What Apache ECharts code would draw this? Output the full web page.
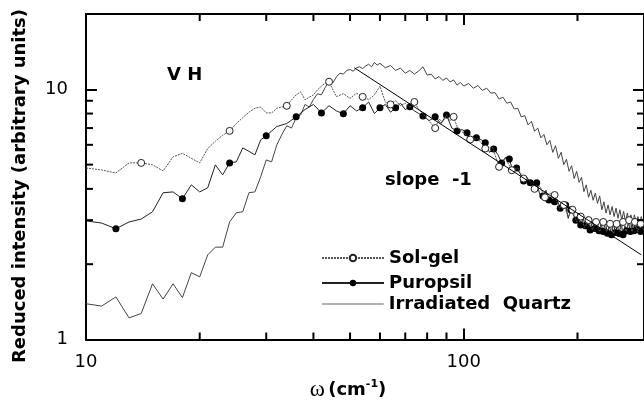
<!DOCTYPE html>
<html><head><meta charset="utf-8">
<script src="https://cdn.jsdelivr.net/npm/echarts@6/dist/echarts.min.js"></script>
<style>html,body{margin:0;padding:0;background:#fff}#c{width:644px;height:414px}</style>
</head><body><div id="c"></div>
<script>
const X_MIN = 10, X_MAX = 300, Y_MIN = 1, Y_MAX = 20;
const xMinorTicks = [20, 30, 40, 50, 60, 70, 80, 90, 200];
const yMinorTicks = [2, 3, 4, 5, 6, 7, 8, 9];

// Sol-gel
const solX = [10,11,12,13,14,15,16,17,18,19,20,21,22,23,24,25,26,27,28,29,30,31,32,33,34,35,36,37,38,39,40,41,42,43,44,
  46,48,50,52,54,56,58,60,62,64,66,68,70,72,74,76,78,80,82,84,86,88,90,92,94,96,98,100,102,104,
  109,114,119,124,129,134,139,144,149,154,159,164,169,174,179,184,189,194,199,204,209,214,219,224,229,234,239,244,249,254,259,264,269,274,279,284,289,294,299];
const solY = [4.85,4.76,4.63,5.08,5.08,4.99,4.72,5.37,5.55,5.3,5.08,5.8,6.2,6.55,6.82,7.3,7.7,8.1,8.4,8.5,8.05,8.05,8.4,8.5,8.59,9.08,9.5,9.77,9.08,9.3,9.5,9.95,10.3,10.6,10.72,
  9.35,9.6,9.2,9.65,9.33,9.1,9.5,10.3,8.9,8.7,9.0,8.6,8.8,8.5,8.9,8.3,8.0,7.6,7.3,7.0,7.6,7.4,7.9,7.5,7.76,7.1,6.8,6.7,6.5,6.3,
  6.35,5.8,5.9,4.9,5.3,4.75,4.85,4.4,4.35,4.0,4.1,3.7,3.85,3.78,3.35,3.45,3.1,3.3,2.95,3.1,2.8,3.0,2.75,2.95,2.7,2.95,2.7,2.9,2.65,2.9,2.7,2.95,2.7,3.0,2.7,2.95,2.7,2.9,2.75];
const solMarkers = [14,24,34,44,54,64,74,84,94,104,114,124,134,144,154,164,174,184,194,204,214,224,234,244,254,264,274,284,294];

// Puropsil
const purX = [10,11,12,13,14,15,16,17,18,19,20,21,22,23,24,25,26,27,28,29,30,
  32,34,36,38,40,42,44,46,48,50,52,54,56,58,60,62,64,66,68,70,72,74,76,78,
  81,84,87,90,93,96,99,102,105,108,111,114,117,120,123,126,129,132,135,138,141,144,147,150,153,156,159,162,165,168,171,174,177,180,183,186,189,192,195,198,201,204,207,210,213,216,219,222,225,228,231,234,237,240,243,246,249,252,255,258,261,264,267,270,273,276,279,282,285,288,291,294,297,300];
const purY = [2.98,2.92,2.77,2.95,3.03,3.24,3.86,3.89,3.65,4.15,3.89,4.04,4.99,4.55,5.08,5.13,5.83,5.65,5.47,6.28,6.52,
  7.1,7.3,7.76,8.3,8.7,8.05,8.6,8.2,7.98,8.6,8.2,8.43,8.9,8.0,8.43,8.7,8.1,8.43,8.8,8.3,8.51,8.2,8.0,7.83,
  7.5,7.76,7.3,7.9,7.0,6.82,6.9,6.7,6.2,6.4,6.3,6.11,5.6,5.78,5.5,5.08,5.35,5.27,4.7,4.85,4.6,4.3,4.45,4.23,4.0,4.23,3.8,3.75,3.95,3.61,3.5,3.55,3.6,3.35,3.5,3.45,3.05,3.3,3.15,3.0,3.2,2.87,3.05,2.85,3.1,2.74,2.95,2.78,3.0,2.72,2.9,2.7,2.95,2.66,2.85,2.62,2.9,2.68,2.85,2.65,2.95,2.62,2.85,2.72,2.95,2.7,2.9,2.72,3.0,2.75,2.9,2.7,2.95,2.75];
const purMarkers = [12,18,24,30,36,42,48,54,60,66,72,78,84,90,96,102,108,114,120,126,132,138,144,150,156,162,168,174,180,186,192,198,204,210,216,222,228,234,240,246,252,258,264,270,276,282,288,294,300];

// Irradiated Quartz
const irrX = [10,11,12,13,14,15,16,17,18,19,20,21,22,23,24,25,26,27,28,29,30,31,32,33,34,35,36,37,38,39,40,41,42,43,44,45,46,47,48,49,50,51,52,53,54,55,56,57,58,59,60,
  62,64,66,68,70,72,74,76,78,80,82,84,86,88,90,92,94,96,98,100,
  103,106,109,112,115,118,121,124,127,130,133,136,139,142,145,148,151,154,157,160,163,166,169,172,175,178,181,184,187,190,193,196,199,202,205,208,211,214,217,220,223,226,229,232,235,238,241,244,247,250,253,256,259,262,265,268,271,274,277,280,283,286,289,292,295,298,300];
const irrY = [1.39,1.36,1.48,1.22,1.27,1.67,1.45,1.67,1.47,1.85,1.78,2.18,2.34,2.34,2.95,3.21,3.24,3.86,3.89,4.47,5.22,5.13,6.0,6.6,7.15,7.0,7.7,7.9,8.7,8.5,9.1,9.6,9.5,10.2,10.7,10.6,11.2,11.6,11.5,11.9,12.0,11.8,12.2,12.3,12.1,12.4,12.6,12.3,12.8,12.5,12.7,
  12.2,12.45,11.9,12.15,11.6,11.9,11.5,11.85,12.3,11.4,11.5,11.0,11.25,10.85,11.1,10.7,10.9,10.4,10.65,10.3,
  10.55,10.1,10.35,9.9,10.1,9.65,9.7,9.15,9.3,8.8,8.9,8.35,8.4,7.75,7.85,7.2,7.45,6.8,7.0,6.4,6.6,6.0,6.25,5.6,5.95,5.3,5.6,5.0,5.25,4.7,4.95,4.4,4.7,4.25,4.45,3.9,4.15,3.7,3.95,3.6,3.85,3.5,3.75,3.3,3.55,3.2,3.45,3.15,3.4,3.1,3.35,3.05,3.3,3.0,3.25,2.95,3.2,2.95,3.15,2.9,3.15,2.9,3.1,2.9,3.1,2.95,3.05];

// slope -1 guide line
const slopeX = [51.3, 295];
const slopeY = [12.2, 2.18];

function build(xs, ys, markers) {
  const set = new Set(markers || []);
  return xs.map((x, i) => set.has(x) ? { value: [x, ys[i]] } : { value: [x, ys[i]], symbol: 'none' });
}

const FONT = '"DejaVu Sans", sans-serif';
const axisCommon = {
  type: 'log', logBase: 10,
  axisLine: { show: true, onZero: false, lineStyle: { color: '#000', width: 2 } },
  axisTick: { show: true, inside: true, length: 11, lineStyle: { color: '#000', width: 2 } },
  splitLine: { show: false },
  minorTick: { show: false }
};

const chart = echarts.init(document.getElementById('c'), null, { renderer: 'canvas' });
chart.setOption({
  animation: false,
  backgroundColor: '#fff',
  grid: { left: 86, top: 14, width: 560, height: 325.5, containLabel: false },
  xAxis: [
    Object.assign({}, axisCommon, { min: X_MIN, max: X_MAX, position: 'bottom',
      axisLabel: { show: true, color: '#000', fontFamily: FONT, fontSize: 18, margin: 14, showMaxLabel: false } }),
    Object.assign({}, axisCommon, { min: X_MIN, max: X_MAX, position: 'top', axisLabel: { show: false } })
  ],
  yAxis: [
    Object.assign({}, axisCommon, { min: Y_MIN, max: Y_MAX, position: 'left',
      axisLabel: { show: true, color: '#000', fontFamily: FONT, fontSize: 18, margin: 18, showMaxLabel: false } }),
    Object.assign({}, axisCommon, { min: Y_MIN, max: Y_MAX, position: 'right', axisLabel: { show: false } })
  ],
  legend: [
    { data: ['Sol-gel'], left: 321, top: 249 },
    { data: ['Puropsil'], left: 321, top: 274 },
    { data: [{ name: 'Irradiated  Quartz', lineStyle: { color: '#999', width: 1.5 }, itemStyle: { opacity: 0 } }], left: 321, top: 295 }
  ].map(l => Object.assign({
    orient: 'vertical', itemWidth: 62, itemHeight: 8, itemGap: 0, padding: 0, selectedMode: false,
    textStyle: { fontFamily: FONT, fontWeight: 'bold', fontSize: 18, color: '#000' }
  }, l)),
  graphic: [
    { type: 'text', x: 167, y: 75, style: { text: 'V H', font: 'bold 18px "DejaVu Sans"', fill: '#000', align: 'left', verticalAlign: 'middle' } },
    { type: 'text', x: 385, y: 180, style: { text: 'slope  -1', font: 'bold 18px "DejaVu Sans"', fill: '#000', align: 'left', verticalAlign: 'middle' } },
    { type: 'text', x: 20, y: 186, rotation: Math.PI / 2, style: { text: 'Reduced intensity (arbitrary units)', font: 'bold 18px "DejaVu Sans"', fill: '#000', align: 'center', verticalAlign: 'middle' } },
    { type: 'text', x: 348, y: 390, style: {
      text: '{w|ω} {b|(cm}{s|-1}{b|)}', align: 'center', verticalAlign: 'middle',
      rich: {
        w: { fontFamily: '"Liberation Serif", serif', fontSize: 23, fill: '#000', lineHeight: 22 },
        b: { fontFamily: FONT, fontWeight: 'bold', fontSize: 18, fill: '#000', lineHeight: 22 },
        s: { fontFamily: FONT, fontWeight: 'bold', fontSize: 11, fill: '#000', lineHeight: 12, verticalAlign: 'top' }
      } } }
  ],
  series: [
    {
      name: 'Irradiated  Quartz', type: 'line', symbol: 'none', data: build(irrX, irrY),
      lineStyle: { color: '#444', width: 1 }, itemStyle: { color: '#444' }, z: 2
    },
    {
      name: 'Puropsil', type: 'line', symbol: 'circle', symbolSize: 7, data: build(purX, purY, purMarkers),
      lineStyle: { color: '#222', width: 1 }, itemStyle: { color: '#000' }, z: 3
    },
    {
      name: 'Sol-gel', type: 'line', symbol: 'circle', symbolSize: 7, data: build(solX, solY, solMarkers),
      lineStyle: { color: '#555', width: 1, type: [2, 1] },
      itemStyle: { color: '#fff', borderColor: '#222', borderWidth: 1 }, z: 4
    },
    {
      name: 'slope', type: 'line', symbol: 'none', data: slopeX.map((x, i) => [x, slopeY[i]]),
      lineStyle: { color: '#000', width: 1 }, z: 5
    },
    {
      name: 'xMinor', type: 'custom', silent: true, clip: false, z: 6,
      data: xMinorTicks.map(v => [v, Y_MIN]),
      renderItem: (params, api) => {
        const v = api.value(0);
        const b = api.coord([v, Y_MIN]), t = api.coord([v, Y_MAX]);
        return { type: 'group', children: [
          { type: 'line', shape: { x1: b[0], y1: b[1], x2: b[0], y2: b[1] - 7 }, style: { stroke: '#000', lineWidth: 2 } },
          { type: 'line', shape: { x1: t[0], y1: t[1], x2: t[0], y2: t[1] + 7 }, style: { stroke: '#000', lineWidth: 2 } }
        ] };
      }
    },
    {
      name: 'yMinor', type: 'custom', silent: true, clip: false, z: 6,
      data: yMinorTicks.map(v => [X_MIN, v]),
      renderItem: (params, api) => {
        const v = api.value(1);
        const l = api.coord([X_MIN, v]), r = api.coord([X_MAX, v]);
        return { type: 'group', children: [
          { type: 'line', shape: { x1: l[0], y1: l[1], x2: l[0] + 7, y2: l[1] }, style: { stroke: '#000', lineWidth: 2 } },
          { type: 'line', shape: { x1: r[0], y1: r[1], x2: r[0] - 7, y2: r[1] }, style: { stroke: '#000', lineWidth: 2 } }
        ] };
      }
    }
  ]
});
</script>
</body></html>
